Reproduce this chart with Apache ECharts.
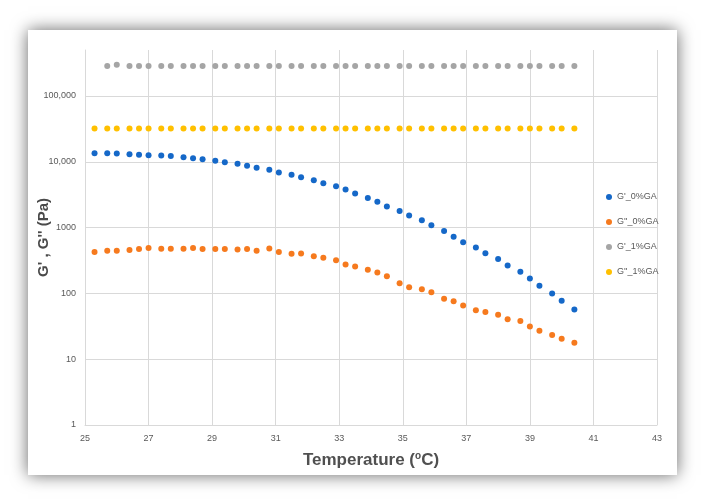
<!DOCTYPE html>
<html>
<head>
<meta charset="utf-8">
<script src="https://cdn.jsdelivr.net/npm/echarts@6/dist/echarts.min.js"></script>
<style>
	html, body {
		margin: 0;
		padding: 0;
		background: #FFFFFF;
	}

	#chart {
		width: 702px;
		height: 501px;
	}
</style>
</head>
<body>
<div id="chart"></div>
<script>
	// temperatures (°C)
	var temps = [25.3, 25.7, 26.0, 26.4, 26.7, 27.0, 27.4, 27.7, 28.1, 28.4, 28.7, 29.1, 29.4, 29.8, 30.1,
		30.4, 30.8, 31.1, 31.5, 31.8, 32.2, 32.5, 32.9, 33.2, 33.5, 33.9, 34.2, 34.5, 34.9, 35.2,
		35.6, 35.9, 36.3, 36.6, 36.9, 37.3, 37.6, 38.0, 38.3, 38.7, 39.0, 39.3, 39.7, 40.0, 40.4];

	var gp0 = [13500, 13500, 13400, 13000, 12800, 12600, 12500, 12200, 11700, 11300, 10900, 10400, 9860, 9330, 8700,
		8110, 7560, 6890, 6350, 5840, 5260, 4730, 4250, 3790, 3290, 2820, 2480, 2100, 1780, 1530,
		1295, 1085, 887, 727, 600, 497, 406, 333, 266, 213, 168, 131, 100, 77, 57];

	var gpp0 = [424, 446, 446, 455, 471, 488, 478, 478, 478, 488, 471, 471, 471, 466, 471,
		446, 483, 424, 401, 405, 368, 348, 318, 275, 257, 228, 207, 183, 143, 124,
		116, 104, 82.6, 76.2, 65.3, 55.3, 52.1, 47.5, 40.3, 37.9, 31.4, 27.0, 23.4, 20.5, 17.8];

	// G'_1%GA has no point at the first temperature
	var gp1 = [null, 286000, 299000, 286000, 286000, 286000, 286000, 286000, 286000, 286000, 286000, 286000, 286000, 286000, 286000,
		286000, 286000, 286000, 286000, 286000, 286000, 286000, 286000, 286000, 286000, 286000, 286000, 286000, 286000, 286000,
		286000, 286000, 286000, 286000, 286000, 286000, 286000, 286000, 286000, 286000, 286000, 286000, 286000, 286000, 286000];

	var gpp1 = [32200, 32200, 32200, 32200, 32200, 32200, 32200, 32200, 32200, 32200, 32200, 32200, 32200, 32200, 32200,
		32200, 32200, 32200, 32200, 32200, 32200, 32200, 32200, 32200, 32200, 32200, 32200, 32200, 32200, 32200,
		32200, 32200, 32200, 32200, 32200, 32200, 32200, 32200, 32200, 32200, 32200, 32200, 32200, 32200, 32200];

	var seriesNames = ["G'_0%GA", "G''_0%GA", "G'_1%GA", "G''_1%GA"];
	var seriesData = [gp0, gpp0, gp1, gpp1];
	var colors = ["#1568C8", "#F67A1E", "#A5A5A5", "#FFC000"];

	function pairs(values) {
		var out = [];
		for (var i = 0; i < temps.length; i++) {
			if (values[i] != null) {
				out.push([temps[i], values[i]]);
			}
		}
		return out;
	}

	var myChart = echarts.init(document.getElementById('chart'));
	var labelFont = "'Liberation Sans Narrow', 'Liberation Sans', sans-serif";

	var option = {
		animation: false,
		color: colors,
		graphic: [{
			type: 'rect',
			z: -10,
			shape: { x: 28, y: 30, width: 649, height: 445 },
			style: {
				fill: '#FFFFFF',
				shadowBlur: 16,
				shadowColor: 'rgba(0,0,0,0.6)',
				shadowOffsetX: 0,
				shadowOffsetY: 0
			}
		}],
		legend: {
			orient: 'vertical',
			left: 601,
			top: 186,
			icon: 'circle',
			itemWidth: 6,
			itemHeight: 6,
			itemGap: 13,
			data: seriesNames,
			textStyle: {
				fontSize: 9,
				lineHeight: 12,
				color: '#595959',
				fontFamily: labelFont
			}
		},
		grid: {
			left: 85,
			right: 45,
			top: 50,
			bottom: 76
		},
		xAxis: {
			type: 'value',
			min: 25,
			max: 43,
			interval: 2,
			name: '{t|Temperature (}{s|o}{t|C)}',
			nameLocation: 'middle',
			nameGap: 26,
			nameMoveOverlap: false,
			nameTextStyle: {
				rich: {
					t: { fontSize: 17, fontWeight: 'bold', color: '#505050', fontFamily: labelFont },
					s: { fontSize: 10, fontWeight: 'bold', color: '#505050', fontFamily: labelFont, padding: [0, 0, 8, 0] }
				}
			},
			axisLine: { show: true, lineStyle: { color: '#D9D9D9' } },
			axisTick: { show: false },
			axisLabel: { fontSize: 9, color: '#595959', fontFamily: labelFont, margin: 9 },
			splitLine: { show: true, lineStyle: { color: '#D9D9D9' } }
		},
		yAxis: {
			type: 'log',
			logBase: 10,
			min: 1,
			max: 500000,
			name: "G' , G'' (Pa)",
			nameLocation: 'middle',
			nameGap: 34,
			nameMoveOverlap: false,
			nameTextStyle: {
				fontSize: 15,
				fontWeight: 'bold',
				color: '#4A4A4A',
				fontFamily: "'Liberation Sans', sans-serif"
			},
			axisLine: { show: true, lineStyle: { color: '#D9D9D9' } },
			axisTick: { show: false },
			axisLabel: {
				fontSize: 9,
				color: '#595959',
				fontFamily: labelFont,
				margin: 9,
				showMaxLabel: false,
				formatter: function (v) {
					if (v >= 10000) {
						return String(Math.round(v)).replace(/\B(?=(\d{3})+(?!\d))/g, ',');
					}
					return String(Math.round(v));
				}
			},
			splitLine: { show: true, showMaxLine: false, lineStyle: { color: '#D9D9D9' } }
		},
		series: seriesData.map(function (values, i) {
			return {
				name: seriesNames[i],
				type: 'scatter',
				symbol: 'circle',
				symbolSize: 6,
				itemStyle: { opacity: 1 },
				data: pairs(values)
			};
		})
	};

	myChart.setOption(option);
</script>
</body>
</html>
